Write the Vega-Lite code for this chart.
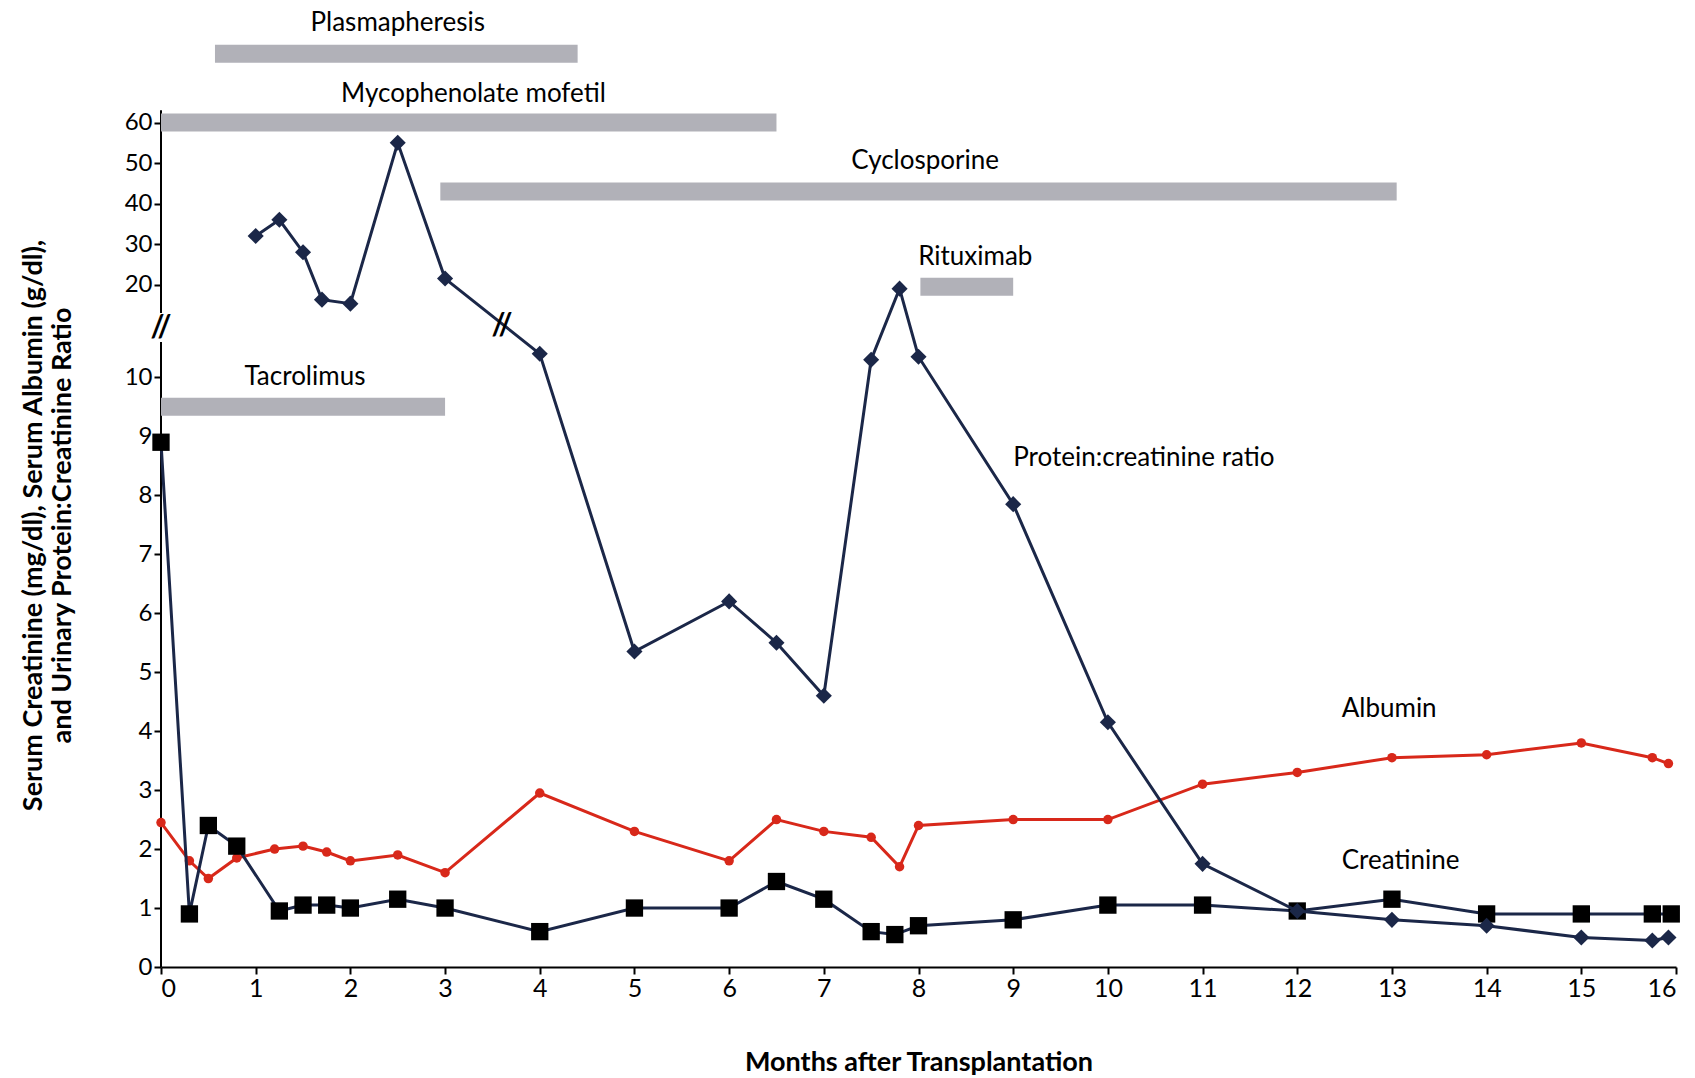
{
"$schema":"https://vega.github.io/schema/vega-lite/v6.json",
"autosize":{"type":"none"},
"padding":{"left":161,"top":5,"right":19,"bottom":111},
"width":1515,"height":962,
"background":"white",
"config":{"font":"Lato","view":{"stroke":null}},
"datasets":{
"protein":[{"m":1.0,"v":32},{"m":1.25,"v":36},{"m":1.5,"v":28},{"m":1.7,"v":16.3},{"m":2.0,"v":15.3},{"m":2.5,"v":55},{"m":3.0,"v":21.5},{"m":4.0,"v":10.4},{"m":5.0,"v":5.35},{"m":6.0,"v":6.2},{"m":6.5,"v":5.5},{"m":7.0,"v":4.6},{"m":7.5,"v":10.3},{"m":7.8,"v":19},{"m":8.0,"v":10.35},{"m":9.0,"v":7.85},{"m":10.0,"v":4.15},{"m":11.0,"v":1.75},{"m":12.0,"v":0.95},{"m":13.0,"v":0.8},{"m":14.0,"v":0.7},{"m":15.0,"v":0.5},{"m":15.75,"v":0.45},{"m":15.92,"v":0.5}],
"creat":[{"m":0,"v":8.9},{"m":0.3,"v":0.9},{"m":0.5,"v":2.4},{"m":0.8,"v":2.05},{"m":1.25,"v":0.95},{"m":1.5,"v":1.05},{"m":1.75,"v":1.05},{"m":2.0,"v":1.0},{"m":2.5,"v":1.15},{"m":3.0,"v":1.0},{"m":4.0,"v":0.6},{"m":5.0,"v":1.0},{"m":6.0,"v":1.0},{"m":6.5,"v":1.45},{"m":7.0,"v":1.15},{"m":7.5,"v":0.6},{"m":7.75,"v":0.55},{"m":8.0,"v":0.7},{"m":9.0,"v":0.8},{"m":10.0,"v":1.05},{"m":11.0,"v":1.05},{"m":12.0,"v":0.95},{"m":13.0,"v":1.15},{"m":14.0,"v":0.9},{"m":15.0,"v":0.9},{"m":15.75,"v":0.9},{"m":15.95,"v":0.9}],
"alb":[{"m":0,"v":2.45},{"m":0.3,"v":1.8},{"m":0.5,"v":1.5},{"m":0.8,"v":1.85},{"m":1.2,"v":2.0},{"m":1.5,"v":2.05},{"m":1.75,"v":1.95},{"m":2.0,"v":1.8},{"m":2.5,"v":1.9},{"m":3.0,"v":1.6},{"m":4.0,"v":2.95},{"m":5.0,"v":2.3},{"m":6.0,"v":1.8},{"m":6.5,"v":2.5},{"m":7.0,"v":2.3},{"m":7.5,"v":2.2},{"m":7.8,"v":1.7},{"m":8.0,"v":2.4},{"m":9.0,"v":2.5},{"m":10.0,"v":2.5},{"m":11.0,"v":3.1},{"m":12.0,"v":3.3},{"m":13.0,"v":3.55},{"m":14.0,"v":3.6},{"m":15.0,"v":3.8},{"m":15.75,"v":3.55},{"m":15.92,"v":3.45}],
"bars":[{"name":"Plasmapheresis","x1":0.57,"x2":4.4,"y":77,"lx":2.5,"ly":84.5},{"name":"Mycophenolate mofetil","x1":0,"x2":6.5,"y":60,"lx":3.3,"ly":67},{"name":"Cyclosporine","x1":2.95,"x2":13.05,"y":43,"lx":8.07,"ly":50.4},{"name":"Rituximab","x1":8.02,"x2":9.0,"y":19.5,"lx":8.6,"ly":26.7},{"name":"Tacrolimus","x1":0,"x2":3.0,"y":9.5,"lx":1.52,"ly":10.0}],
"labels":[{"t":"Protein:creatinine ratio","x":9.0,"y":8.64},{"t":"Albumin","x":12.47,"y":4.37},{"t":"Creatinine","x":12.47,"y":1.8}],
"axisseg":[{"x":0,"y":0,"y2":10.6},{"x":0,"y":13,"y2":63}],
"breaks":[{"x":0,"y":11.8},{"x":3.6,"y":11.9}]
},
"encoding":{
"x":{"field":"m","type":"quantitative","scale":{"domain":[0,16],"nice":false,"zero":false},
"axis":{"values":[0,1,2,3,4,5,6,7,8,9,10,11,12,13,14,15,16],"grid":false,"title":"Months after Transplantation","titleFont":"Lato","titleFontSize":27,"titleFontWeight":"bold","titleColor":"black","titlePadding":48,"labelFontSize":25,"labelColor":"black","domainColor":"black","domainWidth":2,"tickColor":"black","tickWidth":2,"tickSize":7}},
"y":{"field":"v","type":"quantitative","scale":{"type":"linear","domain":[0,10.6,13,89],"range":[962,337,308,0],"clamp":false,"nice":false,"zero":false},
"axis":{"values":[0,1,2,3,4,5,6,7,8,9,10,20,30,40,50,60],"grid":false,"domain":false,"title":["Serum Creatinine (mg/dl), Serum Albumin (g/dl),","and Urinary Protein:Creatinine Ratio"],"titleFont":"Lato","titleFontSize":27,"titleFontWeight":"bold","titleColor":"black","titlePadding":48,"titleY":520,"labelFontSize":24,"labelColor":"black","tickColor":"black","tickWidth":2,"tickSize":7}}
},
"layer":[
{"data":{"name":"axisseg"},"mark":{"type":"rule","color":"black","strokeWidth":2},"encoding":{"x":{"field":"x","type":"quantitative"},"y":{"field":"y","type":"quantitative"},"y2":{"field":"y2"}}},
{"data":{"name":"bars"},"mark":{"type":"rule","color":"#b1b1b8","strokeWidth":18},"encoding":{"x":{"field":"x1","type":"quantitative"},"x2":{"field":"x2"},"y":{"field":"y","type":"quantitative"}}},
{"data":{"name":"bars"},"mark":{"type":"text","fontSize":26,"color":"black","align":"center","baseline":"middle"},"encoding":{"x":{"field":"lx","type":"quantitative"},"y":{"field":"ly","type":"quantitative"},"text":{"field":"name"}}},
{"data":{"name":"alb"},"mark":{"type":"line","color":"#d8281a","strokeWidth":3,"point":{"filled":true,"size":90,"color":"#d8281a"}}},
{"data":{"name":"creat"},"mark":{"type":"line","color":"#1b2748","strokeWidth":3,"point":{"filled":true,"shape":"square","size":300,"color":"#000000"}}},
{"data":{"name":"protein"},"mark":{"type":"line","color":"#1b2748","strokeWidth":3,"point":{"filled":true,"shape":"diamond","size":260,"color":"#1b2748"}}},
{"data":{"name":"breaks"},"mark":{"type":"text","text":"//","fontSize":30,"fontWeight":"bold","color":"black","align":"center","baseline":"middle"},"encoding":{"x":{"field":"x","type":"quantitative"},"y":{"field":"y","type":"quantitative"}}},
{"data":{"name":"labels"},"mark":{"type":"text","fontSize":26,"color":"black","align":"left","baseline":"middle"},"encoding":{"x":{"field":"x","type":"quantitative"},"y":{"field":"y","type":"quantitative"},"text":{"field":"t"}}}
]
}
